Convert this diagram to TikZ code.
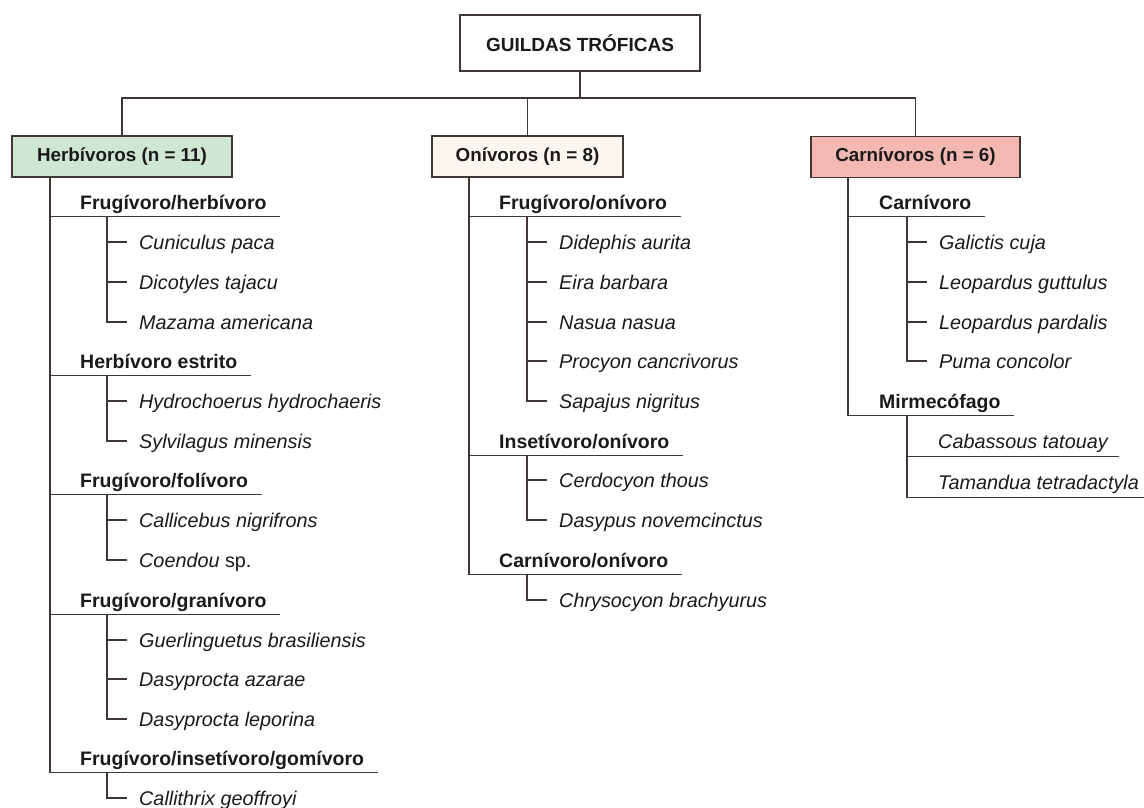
\documentclass[tikz,border=0pt]{standalone}
\usepackage{fontspec}
\setmainfont{Liberation Sans}
\definecolor{lin}{HTML}{403634}
\definecolor{txt}{HTML}{1A1A1A}
\definecolor{herbfill}{HTML}{CFE6D3}
\definecolor{onifill}{HTML}{FCF6F1}
\definecolor{carnfill}{HTML}{F2B8B1}
\tikzset{
  conn/.style={draw=lin, line width=1.2pt},
  catbox/.style={draw=lin, line width=1.2pt, minimum height=41pt, inner sep=0pt,
    font=\fontsize{18.8}{22}\selectfont\bfseries, text=txt},
  subcat/.style={anchor=west, inner xsep=13.5pt, inner ysep=0pt, minimum height=28pt,
    text height=14pt, text depth=0pt, font=\fontsize{19.5}{22}\selectfont\bfseries, text=txt},
  species/.style={anchor=west, inner xsep=12pt, inner ysep=0pt, minimum height=28pt,
    text height=14pt, text depth=0pt, font=\fontsize{19.8}{22}\selectfont\itshape, text=txt},
  ulspecies/.style={anchor=west, inner xsep=11pt, inner ysep=0pt, minimum height=30pt,
    text height=14pt, text depth=0pt, font=\fontsize{19.8}{22}\selectfont\itshape, text=txt}
}
\begin{document}
\begin{tikzpicture}[x=1pt,y=-1pt]
\useasboundingbox (0,0) rectangle (1144,807);
\fill[white] (0,0) rectangle (1144,807);

% top
\node[draw=lin, line width=1.2pt, minimum width=240pt, minimum height=56pt, inner sep=0pt,
  font=\fontsize{19}{22}\selectfont\bfseries, text=txt] (top) at (580,43) {GUILDAS TRÓFICAS};
\coordinate (bus) at (0,98);

% category boxes
\node[catbox, fill=herbfill, minimum width=220pt] (hbox) at (122,156.5) {Herbívoros (n = 11)};
\node[catbox, fill=onifill, minimum width=191pt] (obox) at (527.5,156.5) {Onívoros (n = 8)};
\node[catbox, fill=carnfill, minimum width=209pt] (cbox) at (915.5,157) {Carnívoros (n = 6)};

\draw[conn] (top.south) -- (top.south |- bus);
\draw[conn] (hbox.north) |- (bus -| cbox.north) -- (cbox.north);
\draw[conn] (obox.north) -- (obox.north |- bus);

% spine coordinates
\coordinate (hm) at (50,0);
\coordinate (hs) at (107,0);
\coordinate (om) at (469,0);
\coordinate (os) at (527,0);
\coordinate (cm) at (848,0);
\coordinate (cs) at (907,0);

% ---------- Herbivoros ----------
\node[subcat] (h1) at (66.5,202) {Frugívoro/herbívoro};
\node[species] (h1a) at (127,242) {Cuniculus paca};
\node[species] (h1b) at (127,282) {Dicotyles tajacu};
\node[species] (h1c) at (127,322) {Mazama americana};
\node[subcat] (h2) at (66.5,361) {Herbívoro estrito};
\node[species] (h2a) at (127,401) {Hydrochoerus hydrochaeris};
\node[species] (h2b) at (127,441) {Sylvilagus minensis};
\node[subcat] (h3) at (66.5,480) {Frugívoro/folívoro};
\node[species] (h3a) at (127,520) {Callicebus nigrifrons};
\node[species] (h3b) at (127,560) {\textit{Coendou} \upshape sp.};
\node[subcat] (h4) at (66.5,600) {Frugívoro/granívoro};
\node[species] (h4a) at (127,640) {Guerlinguetus brasiliensis};
\node[species] (h4b) at (127,679) {Dasyprocta azarae};
\node[species] (h4c) at (127,719) {Dasyprocta leporina};
\node[subcat] (h5) at (66.5,758) {Frugívoro/insetívoro/gomívoro};
\node[species] (h5a) at (127,798) {Callithrix geoffroyi};

\draw[conn] (hbox.south -| hm) |- (h5.south east);
\foreach \s in {h1,h2,h3,h4} \draw[conn] (\s.south -| hm) -- (\s.south east);
\draw[conn] (h1.south -| hs) |- (h1c.west);
\foreach \s in {h1a,h1b} \draw[conn] (\s.west -| hs) -- (\s.west);
\draw[conn] (h2.south -| hs) |- (h2b.west);
\draw[conn] (h2a.west -| hs) -- (h2a.west);
\draw[conn] (h3.south -| hs) |- (h3b.west);
\draw[conn] (h3a.west -| hs) -- (h3a.west);
\draw[conn] (h4.south -| hs) |- (h4c.west);
\foreach \s in {h4a,h4b} \draw[conn] (\s.west -| hs) -- (\s.west);
\draw[conn] (h5.south -| hs) |- (h5a.west);

% ---------- Onivoros ----------
\node[subcat] (o1) at (485.5,202) {Frugívoro/onívoro};
\node[species] (o1a) at (547,242) {Didephis aurita};
\node[species] (o1b) at (547,282) {Eira barbara};
\node[species] (o1c) at (547,322) {Nasua nasua};
\node[species] (o1d) at (547,361) {Procyon cancrivorus};
\node[species] (o1e) at (547,401) {Sapajus nigritus};
\node[subcat] (o2) at (485.5,441) {Insetívoro/onívoro};
\node[species] (o2a) at (547,480) {Cerdocyon thous};
\node[species] (o2b) at (547,520) {Dasypus novemcinctus};
\node[subcat] (o3) at (485.5,560) {Carnívoro/onívoro};
\node[species] (o3a) at (547,600) {Chrysocyon brachyurus};

\draw[conn] (obox.south -| om) |- (o3.south east);
\foreach \s in {o1,o2} \draw[conn] (\s.south -| om) -- (\s.south east);
\draw[conn] (o1.south -| os) |- (o1e.west);
\foreach \s in {o1a,o1b,o1c,o1d} \draw[conn] (\s.west -| os) -- (\s.west);
\draw[conn] (o2.south -| os) |- (o2b.west);
\draw[conn] (o2a.west -| os) -- (o2a.west);
\draw[conn] (o3.south -| os) |- (o3a.west);

% ---------- Carnivoros ----------
\node[subcat] (c1) at (865.5,202) {Carnívoro};
\node[species] (c1a) at (927,242) {Galictis cuja};
\node[species] (c1b) at (927,282) {Leopardus guttulus};
\node[species] (c1c) at (927,322) {Leopardus pardalis};
\node[species] (c1d) at (927,361) {Puma concolor};
\node[subcat] (c2) at (865.5,401) {Mirmecófago};
\node[ulspecies] (c2a) at (927,441) {Cabassous tatouay};
\node[ulspecies] (c2b) at (927,482) {Tamandua tetradactyla};

\draw[conn] (cbox.south -| cm) |- (c2.south east);
\draw[conn] (c1.south -| cm) -- (c1.south east);
\draw[conn] (c1.south -| cs) |- (c1d.west);
\foreach \s in {c1a,c1b,c1c} \draw[conn] (\s.west -| cs) -- (\s.west);
\draw[conn] (c2.south -| cs) |- (c2b.south east);
\draw[conn] (c2a.south -| cs) -- (c2a.south east);
\end{tikzpicture}
\end{document}
